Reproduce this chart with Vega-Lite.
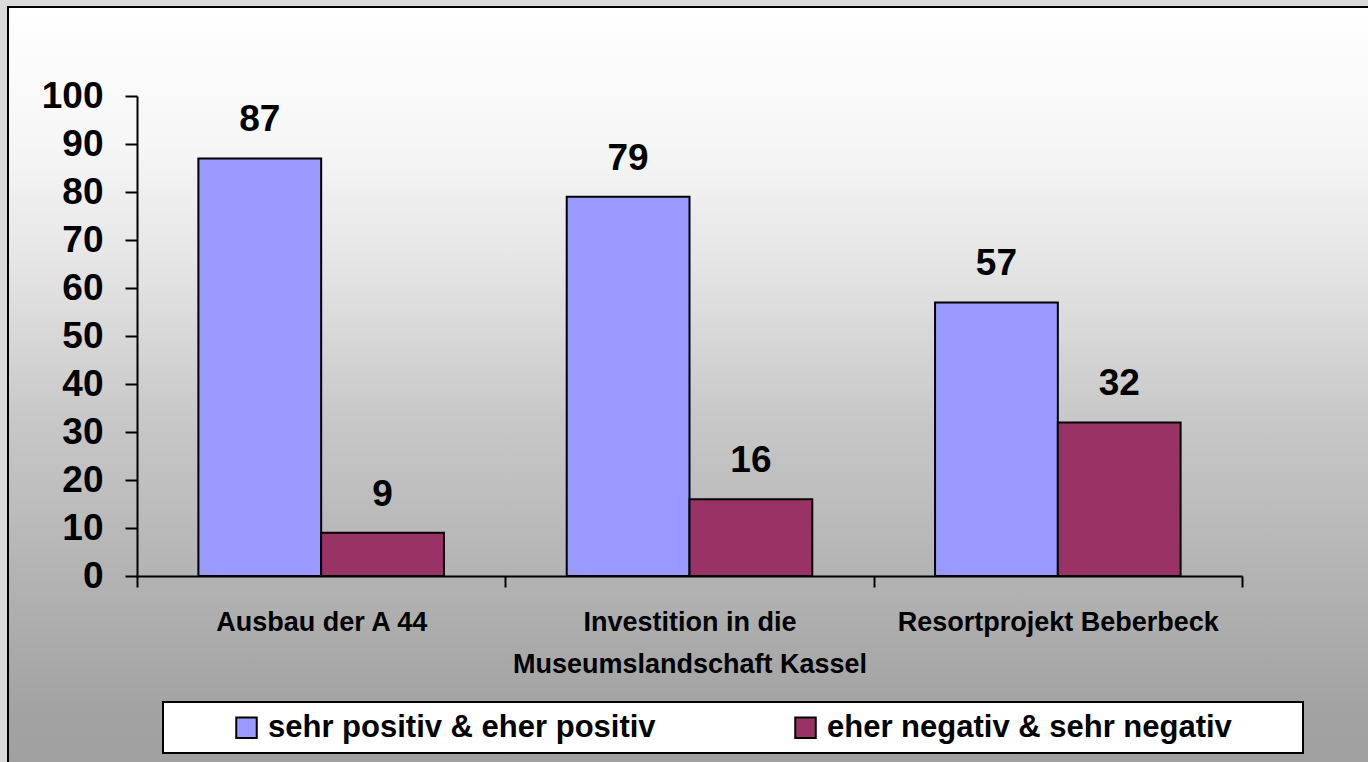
{
  "$schema": "https://vega.github.io/schema/vega-lite/v6.json",
  "width": 1370,
  "height": 760,
  "autosize": {"type": "none"},
  "padding": {"left": 8, "top": 7, "right": 0, "bottom": 0},
  "background": "#dadada",
  "config": {
    "font": "Liberation Sans",
    "view": {
      "stroke": "#000000",
      "strokeWidth": 2,
      "fill": {
        "gradient": "linear",
        "x1": 0, "y1": 0, "x2": 0, "y2": 1,
        "stops": [
          {"offset": 0, "color": "#ffffff"},
          {"offset": 0.18, "color": "#f6f6f6"},
          {"offset": 0.33, "color": "#e6e6e6"},
          {"offset": 0.54, "color": "#c8c8c8"},
          {"offset": 0.76, "color": "#b2b2b2"},
          {"offset": 0.92, "color": "#a3a3a3"},
          {"offset": 1, "color": "#a0a0a0"}
        ]
      }
    },
    "legend": {"strokeWidth": 2}
  },
  "data": {
    "values": [
      {"projekt": "Ausbau der A 44", "bewertung": "sehr positiv & eher positiv", "anteil": 87},
      {"projekt": "Ausbau der A 44", "bewertung": "eher negativ & sehr negativ", "anteil": 9},
      {"projekt": "Investition in die Museumslandschaft Kassel", "bewertung": "sehr positiv & eher positiv", "anteil": 79},
      {"projekt": "Investition in die Museumslandschaft Kassel", "bewertung": "eher negativ & sehr negativ", "anteil": 16},
      {"projekt": "Resortprojekt Beberbeck", "bewertung": "sehr positiv & eher positiv", "anteil": 57},
      {"projekt": "Resortprojekt Beberbeck", "bewertung": "eher negativ & sehr negativ", "anteil": 32}
    ]
  },
  "encoding": {
    "x": {
      "field": "projekt",
      "type": "nominal",
      "sort": null,
      "title": null,
      "scale": {"range": [129, 1234], "paddingInner": 0, "paddingOuter": 0},
      "axis": {
        "orient": "bottom",
        "offset": -191,
        "tickBand": "extent",
        "grid": false,
        "domainColor": "#000000",
        "domainWidth": 2,
        "tickColor": "#000000",
        "tickWidth": 2,
        "tickSize": 11,
        "labelFont": "Liberation Sans",
        "labelFontSize": 27,
        "labelFontWeight": "bold",
        "labelColor": "#000000",
        "labelPadding": 22,
        "labelLineHeight": 42,
        "labelAngle": 0,
        "labelLimit": 1000,
        "labelExpr": "datum.value == 'Investition in die Museumslandschaft Kassel' ? ['Investition in die', 'Museumslandschaft Kassel'] : datum.label"
      }
    },
    "xOffset": {
      "field": "bewertung",
      "type": "nominal",
      "sort": null,
      "scale": {"paddingInner": 0, "paddingOuter": 0.5}
    },
    "y": {
      "field": "anteil",
      "type": "quantitative",
      "title": null,
      "scale": {"domain": [0, 100], "range": [569, 89], "nice": false},
      "axis": {
        "orient": "left",
        "offset": -129,
        "values": [0, 10, 20, 30, 40, 50, 60, 70, 80, 90, 100],
        "grid": false,
        "domainColor": "#000000",
        "domainWidth": 2,
        "tickColor": "#000000",
        "tickWidth": 2,
        "tickSize": 12,
        "labelFont": "Liberation Sans",
        "labelFontSize": 37,
        "labelFontWeight": "bold",
        "labelColor": "#000000",
        "labelPadding": 22,
        "labelFlush": false,
        "labelOverlap": false
      }
    }
  },
  "layer": [
    {
      "mark": {"type": "bar", "stroke": "#000000", "strokeWidth": 2, "opacity": 1},
      "encoding": {
        "color": {
          "field": "bewertung",
          "type": "nominal",
          "sort": null,
          "scale": {"range": ["#9999ff", "#993366"]},
          "legend": {
            "orient": "none",
            "legendX": 155,
            "legendY": 695,
            "direction": "horizontal",
            "title": null,
            "fillColor": "#ffffff",
            "strokeColor": "#000000",
            "padding": 10,
            "labelFont": "Liberation Sans",
            "labelFontSize": 31,
            "labelFontWeight": "bold",
            "labelColor": "#000000",
            "labelLimit": 900,
            "labelOffset": 6,
            "labelExpr": "datum.value == 'eher negativ & sehr negativ' ? datum.label + '\u00a0\u00a0\u00a0\u00a0\u00a0\u00a0\u00a0\u200b' : datum.label",
            "symbolType": "square",
            "symbolSize": 420,
            "symbolStrokeColor": "#000000",
            "symbolStrokeWidth": 2,
            "symbolOpacity": 1,
            "symbolOffset": 58,
            "columnPadding": 76
          }
        }
      }
    },
    {
      "mark": {
        "type": "text",
        "baseline": "alphabetic",
        "align": "center",
        "dy": -27,
        "fontSize": 37,
        "fontWeight": "bold",
        "font": "Liberation Sans",
        "color": "#000000"
      },
      "encoding": {
        "text": {"field": "anteil", "type": "quantitative"}
      }
    }
  ]
}
